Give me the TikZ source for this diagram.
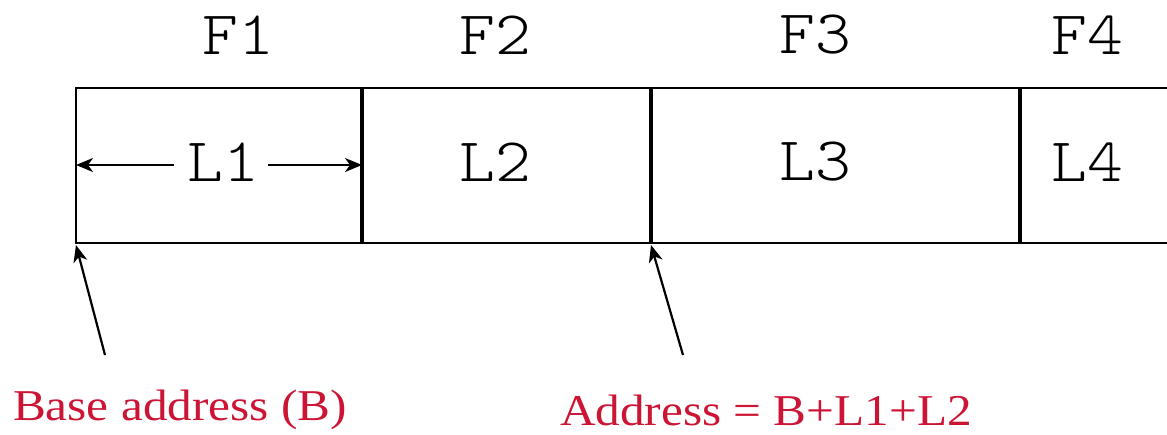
\documentclass[tikz,border=0pt]{standalone}
\usepackage{fontspec}
\setmonofont[FakeStretch=1.1]{Latin Modern Mono Light}
\newfontfamily\redserif[FakeStretch=1.12]{Liberation Serif}
\usetikzlibrary{arrows.meta}
\definecolor{addrred}{RGB}{204,20,52}
\tikzset{
  fieldlbl/.style={font=\fontsize{62}{64}\selectfont\ttfamily, inner sep=0pt},
  addrlbl/.style={font=\fontsize{44}{46}\selectfont\redserif, text=addrred, inner sep=0pt},
  divider/.style={line width=4pt},
  tip/.style={-{Stealth[length=17pt,width=14pt,inset=5pt]}, line width=2.2pt},
}

\begin{document}
\begin{tikzpicture}[x=1pt,y=-1pt, line width=2.6pt]
\useasboundingbox (0,0) rectangle (1167,434);
% record outline
\coordinate (tl) at (76,88);
\coordinate (bl) at (76,243);
\draw (1167,88) -- (tl) -- (bl) -- (1167,243);
\draw[divider] (362,88) -- (362,243);
\draw[divider] (651,88) -- (651,243);
\draw[divider] (1020,88) -- (1020,243);
\coordinate (b1) at (362,165);
\coordinate (a1) at (76,165);
\coordinate (base) at (76,245);
\coordinate (third) at (651,245);
\coordinate (basetail) at (105,355);
\coordinate (thirdtail) at (683,355);
% field names
\node[fieldlbl] (f1) at (238,35) {F1};
\node[fieldlbl] (f2) at (495,35) {F2};
\node[fieldlbl] (f3) at (815,35) {F3};
\node[fieldlbl] (f4) at (1087,35) {F4};
% lengths
\node[fieldlbl] (l1) at (223,162) {L1};
\node[fieldlbl] (l2) at (495,162) {L2};
\node[fieldlbl] (l3) at (815,162) {L3};
\node[fieldlbl] (l4) at (1087,162) {L4};
\draw[tip] ([xshift=-12pt]l1.west |- a1) -- (a1);
\draw[tip] ([xshift=8pt]l1.east |- b1) -- (b1);
% addresses
\node[addrlbl] (baddr) at (180,410) {Base address (B)};
\node[addrlbl] (addr) at (766,410) {Address = B+L1+L2};
\draw[tip] (basetail) -- (base);
\draw[tip] (thirdtail) -- (third);
\end{tikzpicture}
\end{document}
